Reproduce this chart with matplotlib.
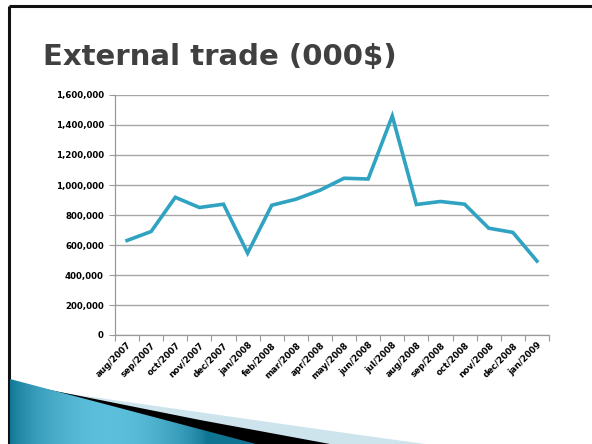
import numpy as np
import matplotlib
matplotlib.use('Agg')
import matplotlib.pyplot as plt
from matplotlib.patches import Polygon
from matplotlib.colors import LinearSegmentedColormap
from matplotlib.ticker import FuncFormatter, FixedLocator

# data (thousand $)
months = ['aug/2007', 'sep/2007', 'oct/2007', 'nov/2007', 'dec/2007', 'jan/2008',
          'feb/2008', 'mar/2008', 'apr/2008', 'may/2008', 'jun/2008', 'jul/2008',
          'aug/2008', 'sep/2008', 'oct/2008', 'nov/2008', 'dec/2008', 'jan/2009']
trade = [630000, 690000, 918000, 850000, 872000, 546000,
         865000, 905000, 965000, 1045000, 1040000, 1460000,
         870000, 890000, 872000, 712000, 684000, 493000]
yticks = [0, 200000, 400000, 600000, 800000, 1000000, 1200000, 1400000, 1600000]

W, H = 592, 444
fig = plt.figure(figsize=(W / 100, H / 100), dpi=100)
fig.patch.set_facecolor('white')

# background layer in pixel coordinates (slide frame + swoosh)
bg = fig.add_axes([0, 0, 1, 1], zorder=0)
bg.axis('off')

# slide frame (top and left)
bg.plot([9, W], [6, 6], color='#111111', lw=2.2, solid_capstyle='butt')
bg.plot([9, 9], [6, H], color='#111111', lw=2.2, solid_capstyle='butt')

# swoosh in the bottom left corner
light = Polygon([(50, 391), (360, 435), (425, 444), (10, 444)],
                closed=True, facecolor='#cde4ed', edgecolor='none', zorder=1)
bg.add_patch(light)
black = Polygon([(40, 388), (200, 420), (330, 444), (10, 444)],
                closed=True, facecolor='#000000', edgecolor='none', zorder=2)
bg.add_patch(black)
blue = Polygon([(10, 379), (256, 444), (10, 444)],
               closed=True, facecolor='none', edgecolor='none', zorder=3)
bg.add_patch(blue)
grad = np.linspace(0, 1, 256)
grad = np.sin(np.clip(grad * 1.25, 0, 1) * np.pi) ** 0.7
grad = np.tile(grad, (10, 1))
cmap = LinearSegmentedColormap.from_list('sw', ['#0f7592', '#5cbfdc'])
im = bg.imshow(grad, cmap=cmap, extent=(10, 256, 444, 376), aspect='auto',
               interpolation='bilinear', zorder=3)
im.set_clip_path(blue)
bg.set_xlim(0, W)
bg.set_ylim(H, 0)

# title
fig.text(43 / W, 1 - 65 / H, 'External trade (000$)', fontsize=21,
         fontweight='bold', family='DejaVu Sans', color='#404040', va='baseline')

# chart
ax = fig.add_axes([115 / W, 1 - 335 / H, 434 / W, 240 / H], zorder=2)
ax.patch.set_alpha(0)
x = np.arange(len(months))
ax.plot(x, trade, color='#2fa3c1', lw=2.6, solid_joinstyle='miter', zorder=3)

ax.set_xlim(-0.5, len(months) - 0.5)
ax.set_ylim(0, 1600000)
ax.set_yticks(yticks)
ax.yaxis.set_major_formatter(FuncFormatter(lambda v, p: f'{int(v):,}'))
ax.grid(axis='y', color='#a6a6a6', lw=1.0)
ax.set_axisbelow(True)

ax.xaxis.set_major_locator(FixedLocator(np.arange(len(months) + 1) - 0.5))
ax.xaxis.set_major_formatter(FuncFormatter(lambda v, p: ''))
ax.xaxis.set_minor_locator(FixedLocator(x))
ax.set_xticklabels(months, minor=True, rotation=45, ha='right',
                   rotation_mode='anchor', fontsize=6.3, fontweight='bold')
ax.tick_params(axis='x', which='minor', length=0, pad=4)
ax.tick_params(axis='x', which='major', length=4, color='#999999', width=0.8)
ax.tick_params(axis='y', length=4, color='#999999', width=0.8, labelsize=6.2, pad=4)
for lbl in ax.get_yticklabels():
    lbl.set_fontweight('bold')

for s in ['top', 'right']:
    ax.spines[s].set_visible(False)
for s in ['left', 'bottom']:
    ax.spines[s].set_color('#999999')
    ax.spines[s].set_linewidth(0.9)

fig.savefig('out.png', dpi=100)
